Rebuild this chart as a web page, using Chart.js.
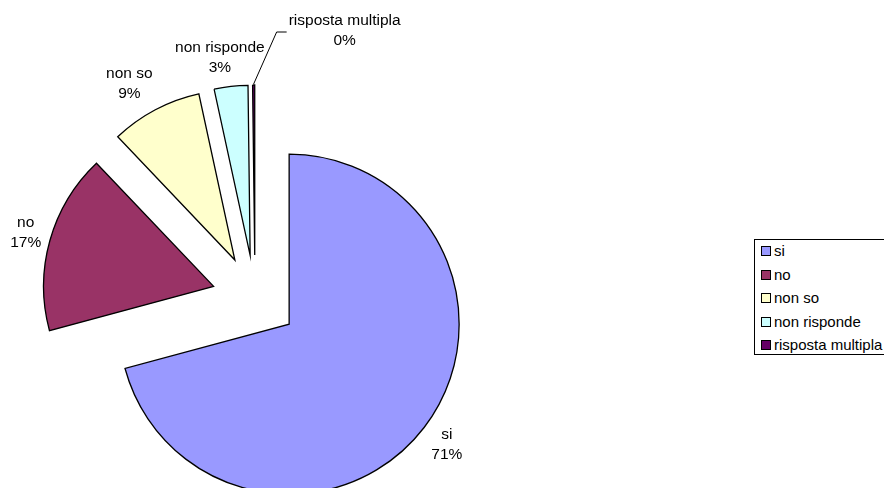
<!DOCTYPE html>
<html>
<head>
<meta charset="utf-8">
<script src="https://cdn.jsdelivr.net/npm/chart.js@4"></script>
<style>
  html, body { margin: 0; padding: 0; background: #fff; overflow: hidden; width: 884px; height: 488px; }
  #wrap { position: relative; width: 884px; height: 488px; overflow: hidden; }
  canvas { position: absolute; left: 0; top: 0; }
  #legend {
    position: absolute; left: 754px; top: 239px; width: 140px; height: 116px;
    border: 1px solid #000; background: #fff; box-sizing: border-box;
    font-family: "Liberation Sans", Arial, sans-serif; font-size: 15px; color: #000;
  }
  .item { position: absolute; left: 6px; height: 20px; line-height: 20px; white-space: nowrap; }
  .sw { display: inline-block; width: 8px; height: 8px; border: 1px solid #000; vertical-align: middle; margin-right: 3px; position: relative; top: -1px; }
</style>
</head>
<body>
<div id="wrap">
  <canvas id="c" width="884" height="596"></canvas>
  <div id="legend"></div>
</div>
<script>
// ---- data ----
const categories = ['si', 'no', 'non so', 'non risponde', 'risposta multipla'];
const values = [70.8, 17.1, 8.7, 3.2, 0.2];
const colors = ['#9999FF', '#993366', '#FFFFCC', '#CCFFFF', '#660066'];

// ---- style constants ----
const PIE_RADIUS = 170;
const EXPLODE = 43;        // px each slice is pulled out along its bisector
const LABEL_GAP = 9;
const FONT = '15.5px "Liberation Sans", Arial, sans-serif';
const LINE_H = 20;

const total = values.reduce((a, b) => a + b, 0);
const pctText = values.map(v => Math.round(v / total * 100) + '%');

// pull every slice out along its bisector (like an exploded Excel pie)
const explodePlugin = {
  id: 'explode',
  afterDatasetsUpdate(chart) {
    const meta = chart.getDatasetMeta(0);
    meta.data.forEach(arc => {
      const a = (arc.startAngle + arc.endAngle) / 2;
      arc.x += Math.cos(a) * EXPLODE;
      arc.y += Math.sin(a) * EXPLODE;
    });
  }
};

const clamp1 = v => Math.max(-1, Math.min(1, v));

const labelPlugin = {
  id: 'sliceLabels',
  afterDatasetsDraw(chart) {
    const ctx = chart.ctx;
    const meta = chart.getDatasetMeta(0);
    ctx.save();
    ctx.font = FONT;
    ctx.fillStyle = '#000';
    ctx.textBaseline = 'middle';
    meta.data.forEach((arc, i) => {
      const a = (arc.startAngle + arc.endAngle) / 2;
      const r = arc.outerRadius;
      const lines = [categories[i], pctText[i]];
      const w = Math.max(...lines.map(l => ctx.measureText(l).width));
      const h = LINE_H * lines.length;
      const ca = Math.cos(a), sa = Math.sin(a);
      let cx, cy;
      if (values[i] / total < 0.01) {
        // tiny slice: leader line from its tip up to the label
        const tx = arc.x + ca * (r + 1), ty = arc.y + sa * (r + 1);
        const ex = tx + 23, ey = ty - 52;
        const hx = ex + 10;
        ctx.strokeStyle = '#000';
        ctx.lineWidth = 1;
        ctx.beginPath();
        ctx.moveTo(tx, ty); ctx.lineTo(ex, ey); ctx.lineTo(hx, ey);
        ctx.stroke();
        cx = hx + 2 + w / 2;
        cy = ey - 1;
      } else {
        const ax = arc.x + ca * (r + LABEL_GAP);
        const ay = arc.y + sa * (r + LABEL_GAP);
        cx = ax + clamp1(2 * ca) * w / 2;
        cy = ay + sa * h / 2;
      }
      ctx.textAlign = 'center';
      lines.forEach((l, k) => {
        ctx.fillText(l, cx, cy + (k - (lines.length - 1) / 2) * LINE_H);
      });
    });
    ctx.restore();
  }
};

new Chart(document.getElementById('c'), {
  type: 'pie',
  data: {
    labels: categories,
    datasets: [{
      data: values,
      backgroundColor: colors,
      borderColor: '#000',
      borderWidth: 1.3,
      borderJoinStyle: 'miter',
      offset: 0,
      hoverOffset: 0,
      radius: PIE_RADIUS
    }]
  },
  options: {
    responsive: false,
    animation: false,
    devicePixelRatio: 1,
    layout: { padding: { left: 0, top: 0, bottom: 0, right: 374 } },
    events: [],
    plugins: { legend: { display: false }, tooltip: { enabled: false } }
  },
  plugins: [explodePlugin, labelPlugin]
});

// legend
const lg = document.getElementById('legend');
categories.forEach((c, i) => {
  const d = document.createElement('div');
  d.className = 'item';
  d.style.top = (1 + i * 23.6) + 'px';
  d.innerHTML = '<span class="sw" style="background:' + colors[i] + '"></span>' + c;
  lg.appendChild(d);
});
</script>
</body>
</html>
